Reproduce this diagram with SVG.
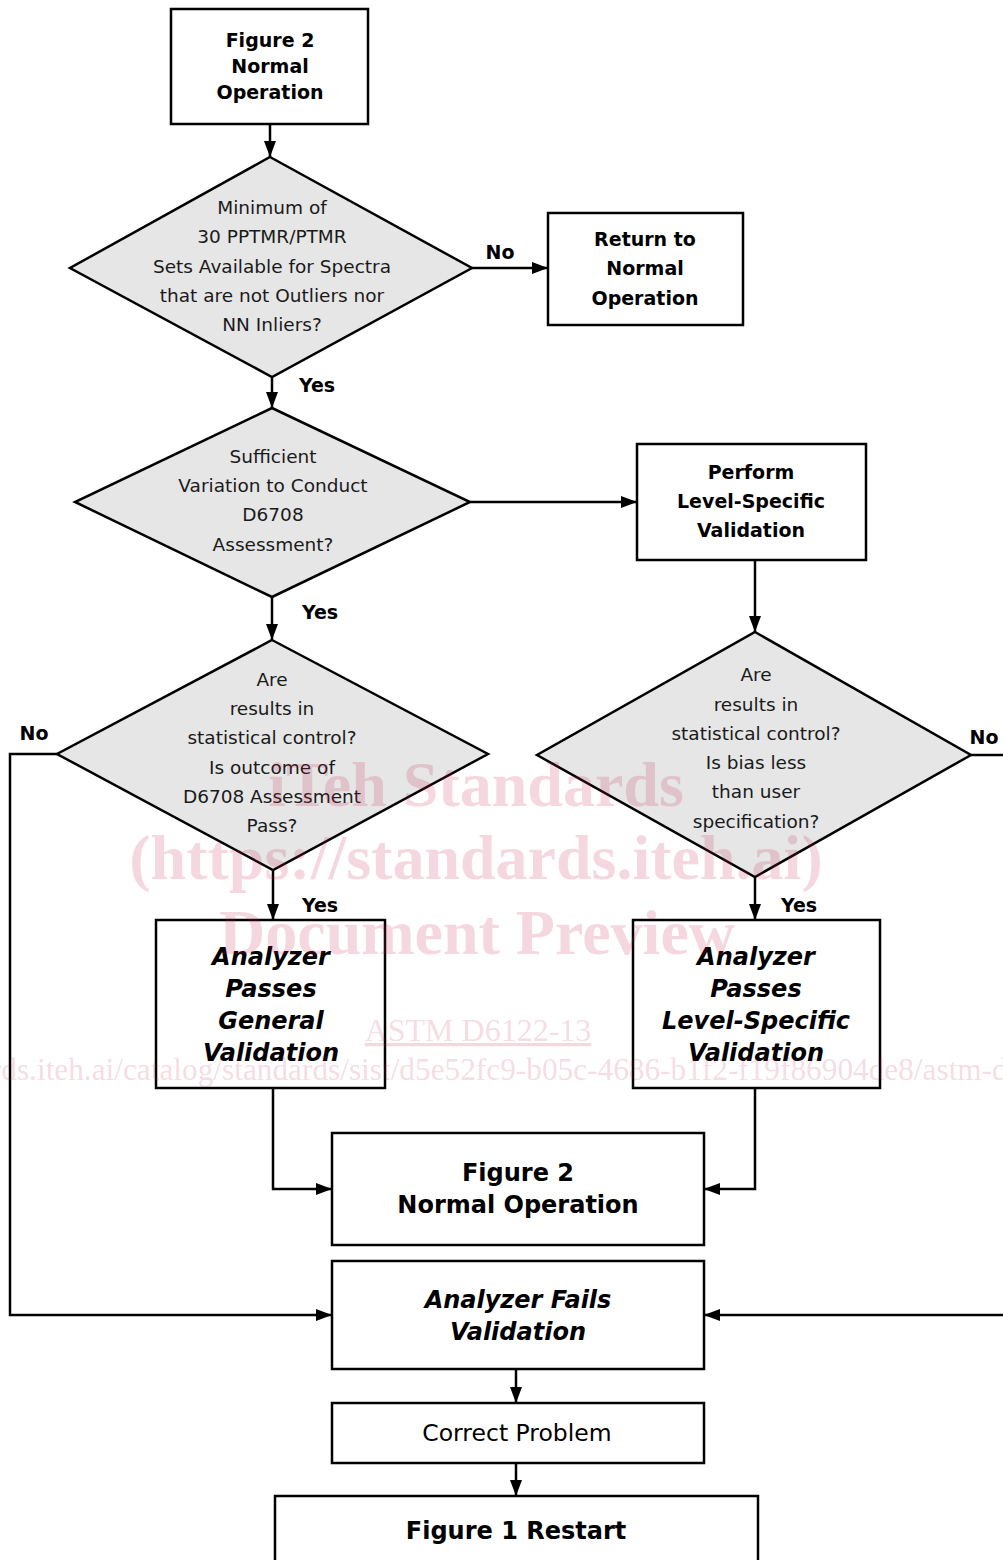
<svg xmlns="http://www.w3.org/2000/svg" width="1003" height="1560" viewBox="0 0 1003 1560">
<style>
.box{fill:#fff;stroke:#000;stroke-width:2.5}
.dia{fill:#e6e6e6;stroke:#000;stroke-width:2.5;stroke-linejoin:miter}
.con{fill:none;stroke:#000;stroke-width:2.5}
.t{font-family:"DejaVu Sans",Verdana,sans-serif;font-size:18.5px;fill:#1a1a1a;text-anchor:middle}
.b{font-family:"DejaVu Sans",Verdana,sans-serif;font-size:19px;font-weight:bold;fill:#000;text-anchor:middle}
.B{font-family:"DejaVu Sans",Verdana,sans-serif;font-size:24px;font-weight:bold;fill:#000;text-anchor:middle}
.BI{font-family:"DejaVu Sans",Verdana,sans-serif;font-size:24px;font-weight:bold;font-style:italic;fill:#000;text-anchor:middle}
.R{font-family:"DejaVu Sans",Verdana,sans-serif;font-size:23.5px;fill:#000;text-anchor:middle}
.lbl{font-family:"DejaVu Sans",Verdana,sans-serif;font-size:19px;font-weight:bold;fill:#000;text-anchor:middle}
.wm{font-family:"Liberation Serif","Times New Roman",serif;fill:#c82850;fill-opacity:0.18;text-anchor:middle}
</style>
<defs>
<marker id="arr" markerUnits="userSpaceOnUse" markerWidth="16" markerHeight="12" refX="16" refY="6" orient="auto">
<path d="M0,0 L16,6 L0,12 z" fill="#000"/>
</marker>
</defs>

<g id="connectors">
<path class="con" d="M270,124 V157" marker-end="url(#arr)"/>
<path class="con" d="M472,268 H548" marker-end="url(#arr)"/>
<path class="con" d="M272,377 V408" marker-end="url(#arr)"/>
<path class="con" d="M470,502 H637" marker-end="url(#arr)"/>
<path class="con" d="M755,560 V632" marker-end="url(#arr)"/>
<path class="con" d="M272,597 V640" marker-end="url(#arr)"/>
<path class="con" d="M57,754 H10 V1315 H332" marker-end="url(#arr)"/>
<path class="con" d="M971,755 H1012 V1315 H704" marker-end="url(#arr)"/>
<path class="con" d="M273,870 V920" marker-end="url(#arr)"/>
<path class="con" d="M755,877 V920" marker-end="url(#arr)"/>
<path class="con" d="M273,1088 V1189 H332" marker-end="url(#arr)"/>
<path class="con" d="M755,1088 V1189 H704" marker-end="url(#arr)"/>
<path class="con" d="M516,1369 V1403" marker-end="url(#arr)"/>
<path class="con" d="M516,1463 V1496" marker-end="url(#arr)"/>
<text class="lbl" x="500" y="259">No</text>
<text class="lbl" x="317" y="392">Yes</text>
<text class="lbl" x="320" y="619">Yes</text>
<text class="lbl" x="34" y="740">No</text>
<text class="lbl" x="984" y="744">No</text>
<text class="lbl" x="320" y="912">Yes</text>
<text class="lbl" x="799" y="912">Yes</text>
</g>

<g id="n-start">
<rect class="box" x="171" y="9" width="197" height="115"/>
<text class="b"><tspan x="270" y="47">Figure 2</tspan><tspan x="270" y="73">Normal</tspan><tspan x="270" y="99">Operation</tspan></text>
</g>

<g id="d-minimum">
<polygon class="dia" points="270,157 472,268 272,377 70,268"/>
<text class="t"><tspan x="272" y="214">Minimum of</tspan><tspan x="272" y="243">30 PPTMR/PTMR</tspan><tspan x="272" y="273">Sets Available for Spectra</tspan><tspan x="272" y="302">that are not Outliers nor</tspan><tspan x="272" y="331">NN Inliers?</tspan></text>
</g>

<g id="n-return">
<rect class="box" x="548" y="213" width="195" height="112"/>
<text class="b"><tspan x="645" y="246">Return to</tspan><tspan x="645" y="275">Normal</tspan><tspan x="645" y="305">Operation</tspan></text>
</g>

<g id="d-variation">
<polygon class="dia" points="272,408 470,502 272,597 75,502"/>
<text class="t"><tspan x="273" y="463">Sufficient</tspan><tspan x="273" y="492">Variation to Conduct</tspan><tspan x="273" y="521">D6708</tspan><tspan x="273" y="551">Assessment?</tspan></text>
</g>

<g id="n-perform">
<rect class="box" x="637" y="444" width="229" height="116"/>
<text class="b"><tspan x="751" y="479">Perform</tspan><tspan x="751" y="508">Level-Specific</tspan><tspan x="751" y="537">Validation</tspan></text>
</g>

<g id="d-general">
<polygon class="dia" points="272,640 488,754 273,870 57,754"/>
<text class="t"><tspan x="272" y="686">Are</tspan><tspan x="272" y="715">results in</tspan><tspan x="272" y="744">statistical control?</tspan><tspan x="272" y="774">Is outcome of</tspan><tspan x="272" y="803">D6708 Assessment</tspan><tspan x="272" y="832">Pass?</tspan></text>
</g>

<g id="d-level">
<polygon class="dia" points="755,632 971,755 755,877 537,755"/>
<text class="t"><tspan x="756" y="681">Are</tspan><tspan x="756" y="711">results in</tspan><tspan x="756" y="740">statistical control?</tspan><tspan x="756" y="769">Is bias less</tspan><tspan x="756" y="798">than user</tspan><tspan x="756" y="828">specification?</tspan></text>
</g>

<g id="n-pass-general">
<rect class="box" x="156" y="920" width="229" height="168"/>
<text class="BI"><tspan x="271" y="965">Analyzer</tspan><tspan x="271" y="997">Passes</tspan><tspan x="271" y="1029">General</tspan><tspan x="271" y="1061">Validation</tspan></text>
</g>

<g id="n-pass-level">
<rect class="box" x="633" y="920" width="247" height="168"/>
<text class="BI"><tspan x="756" y="965">Analyzer</tspan><tspan x="756" y="997">Passes</tspan><tspan x="756" y="1029">Level-Specific</tspan><tspan x="756" y="1061">Validation</tspan></text>
</g>

<g id="n-normal">
<rect class="box" x="332" y="1133" width="372" height="112"/>
<text class="B"><tspan x="518" y="1181">Figure 2</tspan><tspan x="518" y="1213">Normal Operation</tspan></text>
</g>

<g id="n-fail">
<rect class="box" x="332" y="1261" width="372" height="108"/>
<text class="BI"><tspan x="518" y="1308">Analyzer Fails</tspan><tspan x="518" y="1340">Validation</tspan></text>
</g>

<g id="n-correct">
<rect class="box" x="332" y="1403" width="372" height="60"/>
<text class="R" x="517" y="1441">Correct Problem</text>
</g>

<g id="n-restart">
<rect class="box" x="275" y="1496" width="483" height="90"/>
<text class="B" x="516" y="1539">Figure 1 Restart</text>
</g>

<g id="watermark">
<text class="wm" x="476" y="806" font-size="64" font-weight="bold">iTeh Standards</text>
<text class="wm" x="476" y="879" font-size="64" font-weight="bold">(https://standards.iteh.ai)</text>
<text class="wm" x="477" y="954" font-size="64" font-weight="bold">Document Preview</text>
<text class="wm" x="478" y="1041" font-size="32" text-decoration="underline">ASTM D6122-13</text>
<text class="wm" x="468" y="1080" font-size="31.3">https://standards.iteh.ai/catalog/standards/sist/d5e52fc9-b05c-4686-b1f2-f19f86904de8/astm-d6122-13</text>
</g>
</svg>
